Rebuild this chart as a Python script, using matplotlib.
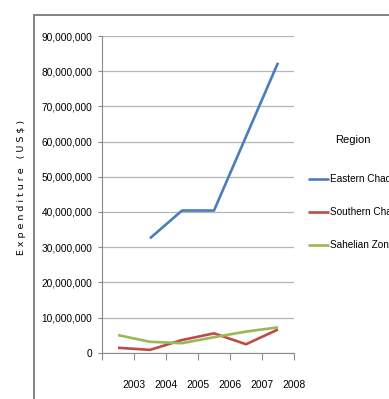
import numpy as np
import matplotlib
matplotlib.use('Agg')
import matplotlib.pyplot as plt
from matplotlib.patches import Rectangle

# 地域別支出データ (US$)
years = ['2003', '2004', '2005', '2006', '2007', '2008']
eastern = [np.nan, 32_500_000, 40_400_000, 40_400_000, 61_400_000, 82_400_000]
southern = [1_400_000, 800_000, 3_600_000, 5_500_000, 2_400_000, 6_600_000]
sahelian = [5_000_000, 3_100_000, 2_700_000, 4_400_000, 6_000_000, 7_200_000]
series_names = ['Eastern Chad', 'Southern Chad', 'Sahelian Zone']
colors = ['#4a7ebb', '#be4b48', '#98b954']

plt.rcParams['font.family'] = ['Liberation Sans', 'DejaVu Sans']

fig = plt.figure(figsize=(3.89, 3.99), dpi=100)
W, H = 389, 399

# 外枠（左と上だけ見える）
fig.patches.append(Rectangle((34 / W, -0.2), 1.2, 1.2 - 15 / H,
                             transform=fig.transFigure, fill=False,
                             edgecolor='#7a7a7a', linewidth=1.3))

ax = fig.add_axes([102 / W, 1 - 352.7 / H, 192 / W, 316.7 / H])

x = np.arange(len(years))
for vals, name, c in zip([eastern, southern, sahelian], series_names, colors):
    ax.plot(x, vals, color=c, linewidth=1.9, label=name, solid_capstyle='butt')

ax.set_xlim(-0.5, len(years) - 0.5)
ax.set_ylim(0, 90_000_000)
yt = np.arange(0, 90_000_001, 10_000_000)
ax.set_yticks(yt)
ax.set_yticklabels(['0' if v == 0 else f'{v:,}' for v in yt], fontsize=7.3)
ax.set_xticks(np.arange(-0.5, len(years), 1.0))
ax.set_xticklabels([''] + years, fontsize=7.5)
ax.tick_params(axis='x', length=5, width=0.8, color='#8a8a8a', pad=15)
ax.tick_params(axis='y', length=3, width=0.8, color='#8a8a8a', pad=4)

ax.grid(axis='y', color='#b5b5b5', linewidth=0.9)
ax.set_axisbelow(True)
for s in ['top', 'right']:
    ax.spines[s].set_visible(False)
for s in ['left', 'bottom']:
    ax.spines[s].set_color('#8a8a8a')
    ax.spines[s].set_linewidth(0.8)

fig.text(22 / W, 1 - 187 / H, 'E x p e n d i t u r e   ( U S $ )', rotation=90,
         ha='center', va='center', fontsize=6.8, family='DejaVu Sans')

leg = ax.legend(loc='upper left', bbox_to_anchor=(308 / W, 1 - 135 / H),
                bbox_transform=fig.transFigure, frameon=False, title='Region',
                fontsize=7.2, title_fontsize=8, handlelength=2.1, handletextpad=0.15,
                labelspacing=2.3, borderpad=0, borderaxespad=0)
leg._legend_box.sep = 21

fig.savefig('out.png', dpi=100)
